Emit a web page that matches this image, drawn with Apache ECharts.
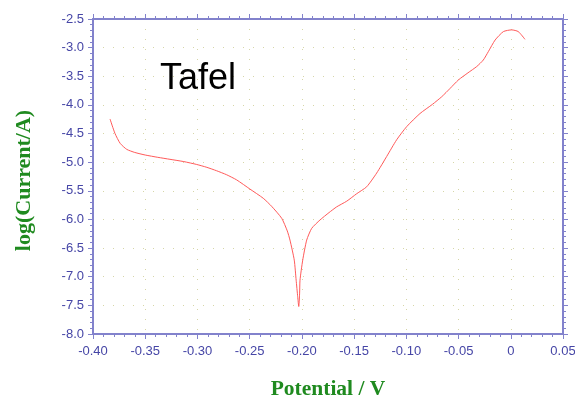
<!DOCTYPE html>
<html>
<head>
<meta charset="utf-8">
<script src="https://cdn.jsdelivr.net/npm/echarts@6/dist/echarts.min.js"></script>
<style>html,body{margin:0;padding:0;background:#fff}#c{width:575px;height:400px}</style>
</head>
<body>
<div id="c"></div>
<script>
var potential = [-0.3837,-0.379,-0.374,-0.3677,-0.360,-0.350,-0.338,-0.3263,-0.313,-0.3007,-0.291,-0.2816,-0.272,-0.2624,-0.2497,-0.237,-0.229,-0.2193,-0.214,-0.2114,-0.2073,-0.2055,-0.204,-0.203,-0.2022,-0.2018,-0.1992,-0.1954,-0.1906,-0.1827,-0.174,-0.1667,-0.157,-0.1475,-0.138,-0.1284,-0.1188,-0.1093,-0.0997,-0.0869,-0.075,-0.0661,-0.058,-0.0502,-0.041,-0.0326,-0.0263,-0.0215,-0.015,-0.0071,0.0009,0.0072,0.0136];
var logCurrent = [-4.246,-4.496,-4.671,-4.776,-4.83,-4.875,-4.915,-4.95,-4.99,-5.04,-5.09,-5.15,-5.22,-5.31,-5.47,-5.63,-5.77,-5.98,-6.20,-6.36,-6.71,-7.06,-7.35,-7.52,-7.30,-7.06,-6.71,-6.36,-6.155,-6.01,-5.88,-5.78,-5.68,-5.55,-5.43,-5.19,-4.90,-4.61,-4.38,-4.15,-3.99,-3.857,-3.71,-3.565,-3.44,-3.33,-3.216,-3.07,-2.867,-2.72,-2.69,-2.72,-2.855];
var xTickValues = [-0.40,-0.35,-0.30,-0.25,-0.20,-0.15,-0.10,-0.05,0,0.05];
var xTickLabels = ["-0.40","-0.35","-0.30","-0.25","-0.20","-0.15","-0.10","-0.05","0","0.05"];
var yTickValues = [-8.0,-7.5,-7.0,-6.5,-6.0,-5.5,-5.0,-4.5,-4.0,-3.5,-3.0,-2.5];
var yTickLabels = ["-8.0","-7.5","-7.0","-6.5","-6.0","-5.5","-5.0","-4.5","-4.0","-3.5","-3.0","-2.5"];
var titleText = "Tafel";
var xName = "Potential / V";
var yName = "log(Current/A)";

function lookup(vals, labels, v){
  for (var i=0;i<vals.length;i++){ if (Math.abs(vals[i]-v)<1e-6) return labels[i]; }
  return '';
}
var data = potential.map(function(p,i){ return [p, logCurrent[i]]; });
var axisCol = '#8282cc';
var labelCol = '#4646a6';
var gridCol = '#d6d6a8';
function nameStyle(size, pad){
  return {color:'#1f8a1f', fontFamily:'Liberation Serif', fontWeight:'bold', fontSize:size, padding:pad};
}
function baseAxis(extra){
  var a = {
    axisLine:{show:true, onZero:false, lineStyle:{color:axisCol, width:2}},
    axisTick:{show:true, inside:false, length:5, lineStyle:{color:axisCol, width:1}},
    minorTick:{show:true, splitNumber:5, length:3, lineStyle:{color:axisCol, width:1}},
    splitLine:{show:false},
    axisLabel:{show:false}
  };
  for (var k in extra) a[k]=extra[k];
  return a;
}
var chart = echarts.init(document.getElementById('c'), null, {renderer:'canvas'});
chart.setOption({
  animation:false,
  backgroundColor:'#ffffff',
  title:{text:titleText, left:155, top:56, textStyle:{fontFamily:'Liberation Sans', fontSize:36, fontWeight:'normal', color:'#000'}},
  grid:{left:93, right:12, top:19, bottom:66, containLabel:false, outerBoundsMode:'none'},
  xAxis:[
    baseAxis({type:'value', position:'bottom', min:-0.4, max:0.05, interval:0.05,
      name:xName, nameLocation:'middle', nameGap:44, nameTextStyle:nameStyle(21.5,[0,0,0,0]),
      splitLine:{show:true, lineStyle:{color:gridCol, type:[1,9], width:1}},
      axisLabel:{show:true, color:labelCol, fontFamily:'Liberation Sans', fontSize:13, margin:11,
        formatter:function(v){return lookup(xTickValues,xTickLabels,v);}}}),
    baseAxis({type:'value', position:'top', min:-0.4, max:0.05, interval:0.05})
  ],
  yAxis:[
    baseAxis({type:'value', position:'left', min:-8, max:-2.5, interval:0.5,
      name:yName, nameLocation:'middle', nameGap:58, nameTextStyle:nameStyle(22,[0,8,0,0]),
      splitLine:{show:true, lineStyle:{color:gridCol, type:[1,9], width:1}},
      axisLabel:{show:true, color:labelCol, fontFamily:'Liberation Sans', fontSize:13, margin:9,
        formatter:function(v){return lookup(yTickValues,yTickLabels,v);}}}),
    baseAxis({type:'value', position:'right', min:-8, max:-2.5, interval:0.5})
  ],
  series:[{
    type:'line', data:data, xAxisIndex:0, yAxisIndex:0, showSymbol:false, smooth:0.2,
    lineStyle:{color:'#ff5a5a', width:1}
  }]
});
</script>
</body>
</html>
